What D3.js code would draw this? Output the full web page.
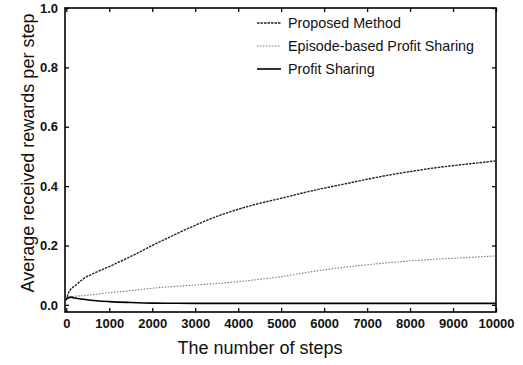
<!DOCTYPE html>
<html>
<head>
<meta charset="utf-8">
<script src="https://cdnjs.cloudflare.com/ajax/libs/d3/7.8.5/d3.min.js"></script>
<style>
  body { margin: 0; background: #fff; }
  svg { display: block; }
  text { font-family: "Liberation Sans", Arial, sans-serif; fill: #111; }
</style>
</head>
<body>
<div id="chart"></div>
<script>
'use strict';

// values
var steps = [0, 50, 100, 200, 400, 700, 1000, 1500, 2000, 2500, 3000, 3500, 4000,
  4500, 5000, 5500, 6000, 6500, 7000, 7500, 8000, 8500, 9000, 9500, 10000];
var proposed = [0.015, 0.04, 0.052, 0.064, 0.088, 0.11, 0.129, 0.163, 0.2, 0.235,
  0.268, 0.298, 0.322, 0.342, 0.359, 0.377, 0.393, 0.408, 0.423, 0.437, 0.449, 0.46, 0.469, 0.477, 0.485];
var episodeBased = [0.024, 0.026, 0.027, 0.029, 0.031, 0.036, 0.041, 0.048, 0.056, 0.062,
  0.067, 0.072, 0.078, 0.086, 0.095, 0.107, 0.118, 0.127, 0.135, 0.142, 0.148, 0.153, 0.157, 0.161, 0.165];
var profitSharing = [0.02, 0.024, 0.026, 0.023, 0.019, 0.014, 0.011, 0.008, 0.006, 0.0055,
  0.005, 0.005, 0.005, 0.005, 0.005, 0.005, 0.005, 0.005, 0.005, 0.005, 0.005, 0.005, 0.005, 0.005, 0.005];

var seriesNames = ['Proposed Method', 'Episode-based Profit Sharing', 'Profit Sharing'];
var xTicks = [0, 1000, 2000, 3000, 4000, 5000, 6000, 7000, 8000, 9000, 10000];
var yTicks = [0.0, 0.2, 0.4, 0.6, 0.8, 1.0];

var W = 523, H = 365;
var L = 65, R = 496, T = 8, B = 312;

var svg = d3.select('#chart').append('svg').attr('width', W).attr('height', H);

var x = d3.scaleLinear().domain([-30, 10000]).range([L, R]);
var y = d3.scaleLinear().domain([-0.024, 1.0]).range([B, T]);

// inward ticks on all four sides
function tickAxis(axis, tr, fmt, showLabels) {
  var g = svg.append('g').attr('transform', tr).call(axis.tickSize(-4).tickPadding(showLabels ? 7 : 0).tickFormat(showLabels ? fmt : ''));
  g.select('.domain').remove();
  g.selectAll('line').attr('stroke', '#000').attr('stroke-width', 1.3);
  g.selectAll('text').attr('font-size', '13px').attr('font-weight', 'bold').attr('fill', '#111');
  return g;
}

tickAxis(d3.axisBottom(x).tickValues(xTicks), 'translate(0,' + B + ')', d3.format('d'), true);
tickAxis(d3.axisTop(x).tickValues(xTicks), 'translate(0,' + T + ')', null, false);
tickAxis(d3.axisLeft(y).tickValues(yTicks), 'translate(' + L + ',0)', d3.format('.1f'), true);
tickAxis(d3.axisRight(y).tickValues(yTicks), 'translate(' + R + ',0)', null, false);

svg.append('rect')
  .attr('x', L).attr('y', T).attr('width', R - L).attr('height', B - T)
  .attr('fill', 'none').attr('stroke', '#000').attr('stroke-width', 1.6);

var line = d3.line()
  .x(function (d) { return x(d[0]); })
  .y(function (d) { return y(d[1]); })
  .curve(d3.curveMonotoneX);

var styles = [
  { stroke: '#222', width: 1.4, dash: '2.5,1' },
  { stroke: '#777', width: 1.1, dash: '1.5,1.5' },
  { stroke: '#000', width: 1.6, dash: null }
];
var series = [proposed, episodeBased, profitSharing];

series.forEach(function (vals, i) {
  var pts = steps.map(function (s, j) { return [s, vals[j]]; });
  svg.append('path')
    .attr('d', line(pts))
    .attr('fill', 'none')
    .attr('stroke', styles[i].stroke)
    .attr('stroke-width', styles[i].width)
    .attr('stroke-dasharray', styles[i].dash);
});

// legend
var lg = svg.append('g');
seriesNames.forEach(function (name, i) {
  var ly = 23 + i * 23;
  lg.append('line')
    .attr('x1', 257).attr('x2', 281).attr('y1', ly).attr('y2', ly)
    .attr('stroke', styles[i].stroke)
    .attr('stroke-width', styles[i].width)
    .attr('stroke-dasharray', styles[i].dash);
  lg.append('text')
    .attr('x', 288).attr('y', ly).attr('dy', '0.35em')
    .attr('font-size', '14.3px')
    .text(name);
});

// axis titles
svg.append('text')
  .attr('x', 260).attr('y', 354)
  .attr('text-anchor', 'middle')
  .attr('font-size', '18px')
  .text('The number of steps');

svg.append('text')
  .attr('transform', 'translate(34,153) rotate(-90)')
  .attr('text-anchor', 'middle')
  .attr('font-size', '18px')
  .text('Average received rewards per step');
</script>
</body>
</html>
